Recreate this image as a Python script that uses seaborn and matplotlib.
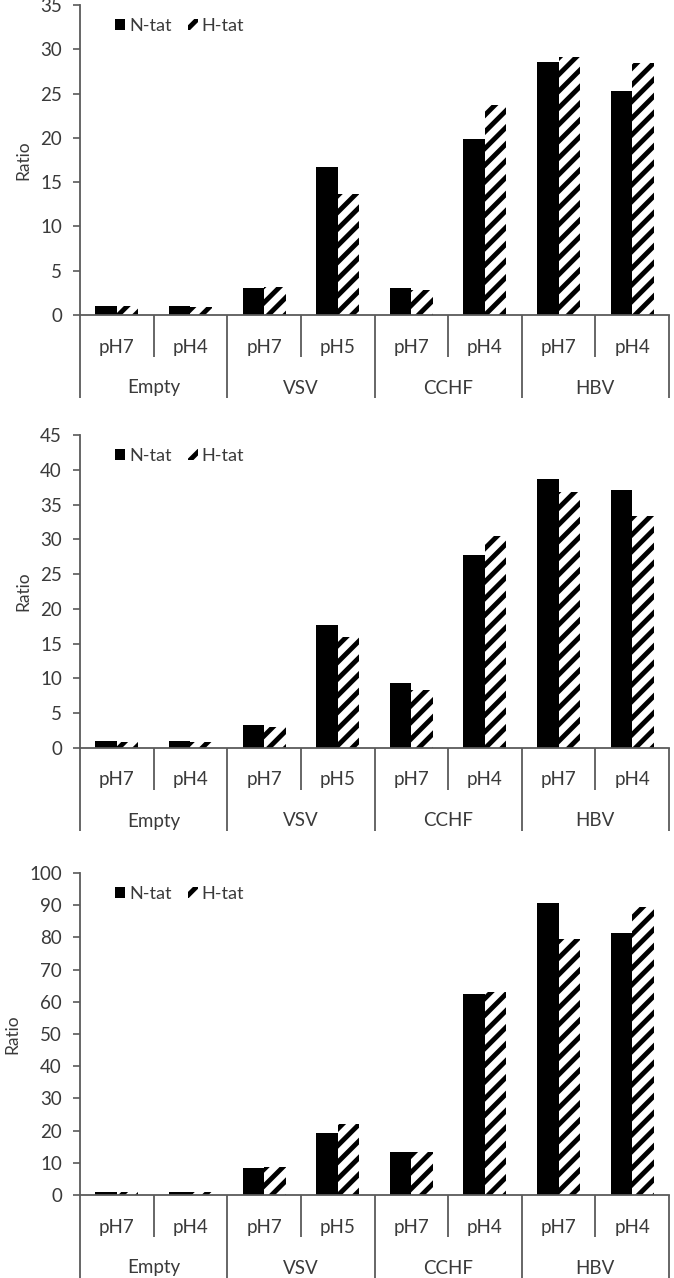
import numpy as np
import pandas as pd
import matplotlib
matplotlib.use("Agg")
import matplotlib.pyplot as plt
from matplotlib.patches import Patch
from matplotlib.transforms import blended_transform_factory
import seaborn as sns

# categories
groups = ["Empty", "VSV", "CCHF", "HBV"]
ph_labels = ["pH7", "pH4", "pH7", "pH5", "pH7", "pH4", "pH7", "pH4"]
series = ["N-tat", "H-tat"]

# values
p1_ntat = [1.0, 1.0, 3.0, 16.7, 3.0, 19.9, 28.6, 25.3]
p1_htat = [1.0, 0.9, 3.2, 13.7, 2.8, 23.7, 29.1, 28.5]
p2_ntat = [1.0, 1.0, 3.3, 17.7, 9.3, 27.8, 38.7, 37.1]
p2_htat = [0.9, 0.9, 3.0, 16.0, 8.3, 30.5, 36.8, 33.3]
p3_ntat = [1.0, 1.0, 8.4, 19.1, 13.4, 62.3, 90.8, 81.4]
p3_htat = [0.8, 0.8, 8.6, 22.2, 13.4, 63.0, 79.4, 89.5]

y_max = [35, 45, 100]
y_step = [5, 5, 10]

FIG_W, FIG_H = 674, 1278
# axes boxes in pixels: (top, bottom)
boxes = [(5, 315), (435, 748), (873, 1195)]
LEFT, RIGHT = 80, 669

sns.set_style("white")
plt.rcParams["font.family"] = ["Lato", "DejaVu Sans"]
plt.rcParams["hatch.linewidth"] = 3.5
TXT = "#3a3a3a"
LINE = "#5a5a5a"

fig = plt.figure(figsize=(FIG_W / 100, FIG_H / 100), dpi=100)

keys = [f"{groups[i // 2]}|{p}" for i, p in enumerate(ph_labels)]

panels = [(p1_ntat, p1_htat), (p2_ntat, p2_htat), (p3_ntat, p3_htat)]
for k, ((ntat, htat), (top, bot)) in enumerate(zip(panels, boxes)):
    ax = fig.add_axes([LEFT / FIG_W, 1 - bot / FIG_H, (RIGHT - LEFT) / FIG_W, (bot - top) / FIG_H])
    df = pd.DataFrame({
        "cat": keys * 2,
        "series": ["N-tat"] * 8 + ["H-tat"] * 8,
        "ratio": list(ntat) + list(htat),
    })
    sns.barplot(data=df, x="cat", y="ratio", hue="series", hue_order=series,
                order=keys, width=0.585, palette=["black", "white"], ax=ax,
                legend=False, errorbar=None, saturation=1)
    for bar in ax.containers[0]:
        bar.set_linewidth(0)
        bar.set_facecolor("black")
    for bar in ax.containers[1]:
        bar.set_facecolor("white")
        bar.set_edgecolor("black")
        bar.set_linewidth(0)
        bar.set_hatch("//")

    ax.set_xlim(-0.5, 7.5)
    ax.set_ylim(0, y_max[k])
    ax.set_yticks(np.arange(0, y_max[k] + 1, y_step[k]))
    ax.tick_params(axis="y", direction="out", length=5, width=1.2, color=LINE,
                   labelsize=13.5, labelcolor=TXT, pad=8, left=True)
    ax.set_xticks([])
    ax.set_xlabel("")
    ax.set_ylabel("Ratio", fontsize=12.5, color=TXT, labelpad=6)
    for s in ["top", "right"]:
        ax.spines[s].set_visible(False)
    for s in ["left", "bottom"]:
        ax.spines[s].set_color(LINE)
        ax.spines[s].set_linewidth(1.3)

    # two-level category axis below the bars
    h = bot - top
    tr = blended_transform_factory(ax.transData, ax.transAxes)
    for i, lab in enumerate(ph_labels):
        ax.text(i, -32 / h, lab, transform=tr, ha="center", va="center",
                fontsize=13.5, color=TXT)
    for j, g in enumerate(groups):
        ax.text(2 * j + 0.5, -73 / h, g, transform=tr, ha="center", va="center",
                fontsize=13.5, color=TXT)
    for xb in np.arange(-0.5, 8, 1.0):
        depth = 83 if (xb + 0.5) % 2 == 0 else 42
        ax.plot([xb, xb], [0, -depth / h], transform=tr, color=LINE, lw=1.3,
                clip_on=False, solid_capstyle="butt")

    handles = [Patch(facecolor="black", edgecolor="black", lw=0),
               Patch(facecolor="white", edgecolor="black", lw=0, hatch="//")]
    ax.legend(handles, series, loc="center left", bbox_to_anchor=(0.06, 1 - 21 / h),
              ncol=2, frameon=False, fontsize=13, labelcolor=TXT,
              handlelength=0.55, handleheight=0.55, handletextpad=0.2,
              columnspacing=0.9, borderpad=0, borderaxespad=0)

fig.savefig("out.png", dpi=100)
